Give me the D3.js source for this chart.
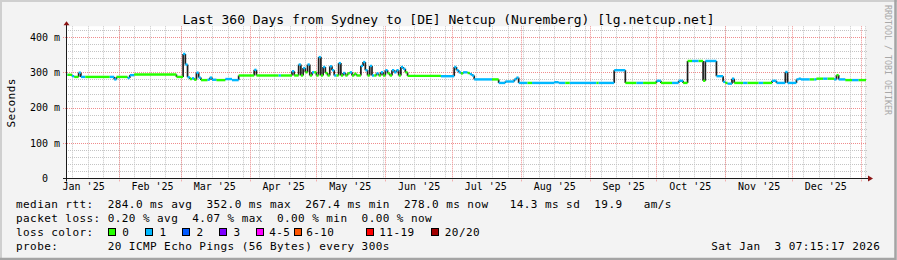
<!DOCTYPE html>
<html lang="en">
<head>
  <meta charset="UTF-8">
  <title>SmokePing - Last 360 Days</title>
  <script src="https://d3js.org/d3.v7.min.js"></script>
  <style>
    body {
      margin: 0;
      background: #f3f3f3;
    }
    svg text {
      font-family: "DejaVu Sans Mono", monospace;
      white-space: pre;
      fill: #000;
    }
  </style>
</head>
<body>
  <svg width="897" height="260"></svg>
  <script>
    const title = "Last 360 Days from Sydney to [DE] Netcup (Nuremberg) [lg.netcup.net]";
    const endTime = new Date(2026, 0, 3, 7, 15, 17);
    const spanDays = 360;
    const yTicks = [0, 100, 200, 300, 400];

    const lossLabels = ["0", "1", "2", "3", "4-5", "6-10", "11-19", "20/20"];
    const lossColors = ["#26ff00", "#00b8ff", "#0059ff", "#7e00ff", "#ff00ff", "#ff5500", "#ff0000", "#a10000"];

    // median rtt (ms) as steps: [start day, median, loss bucket]
    const medianRuns = [
      ["2025-01-08", 293, 1], ["2025-01-09", 293, 0], ["2025-01-11", 289, 1], ["2025-01-12", 287, 0],
      ["2025-01-15", 287, 1], ["2025-01-17", 287, 0], ["2025-01-28", 287, 1], ["2025-01-31", 287, 0],
      ["2025-02-05", 284, 1], ["2025-02-06", 292, 1], ["2025-02-08", 294, 0], ["2025-02-27", 287, 0],
      ["2025-03-04", 286, 1], ["2025-03-05", 281, 0], ["2025-03-06", 283, 1], ["2025-03-07", 279, 0],
      ["2025-03-09", 285, 1], ["2025-03-10", 278, 0], ["2025-03-13", 279, 1], ["2025-03-17", 278, 0],
      ["2025-03-21", 281, 1], ["2025-03-24", 278, 1], ["2025-03-27", 291, 0], ["2025-04-14", 291, 1],
      ["2025-04-15", 291, 0], ["2025-05-09", 291, 1], ["2025-05-10", 291, 0], ["2025-05-26", 291, 1],
      ["2025-05-27", 291, 0], ["2025-06-11", 290, 0], ["2025-06-26", 289, 1], ["2025-07-02", 315, 1],
      ["2025-07-03", 306, 1], ["2025-07-04", 300, 1], ["2025-07-05", 297, 0], ["2025-07-06", 300, 1],
      ["2025-07-08", 298, 0], ["2025-07-09", 295, 1], ["2025-07-10", 291, 1], ["2025-07-11", 280, 1],
      ["2025-07-19", 280, 0], ["2025-07-22", 270, 1], ["2025-07-25", 274, 1], ["2025-07-29", 280, 1],
      ["2025-07-31", 270, 1], ["2025-08-04", 270, 0], ["2025-08-06", 270, 1], ["2025-08-16", 272, 1],
      ["2025-08-18", 270, 1], ["2025-08-21", 270, 0], ["2025-08-23", 270, 1], ["2025-09-04", 270, 0],
      ["2025-09-05", 270, 1], ["2025-09-12", 306, 1], ["2025-09-17", 270, 0], ["2025-09-22", 270, 1],
      ["2025-09-25", 270, 0], ["2025-10-01", 276, 1], ["2025-10-03", 270, 0], ["2025-10-08", 270, 1],
      ["2025-10-11", 276, 1], ["2025-10-13", 270, 0], ["2025-10-15", 332, 0], ["2025-10-17", 332, 1],
      ["2025-10-20", 332, 0], ["2025-10-22", 276, 0], ["2025-10-23", 332, 1], ["2025-10-28", 289, 1],
      ["2025-10-31", 273, 1], ["2025-11-01", 270, 0], ["2025-11-02", 268, 1], ["2025-11-05", 270, 0],
      ["2025-11-09", 270, 1], ["2025-11-11", 270, 0], ["2025-11-16", 270, 1], ["2025-11-18", 270, 0],
      ["2025-11-22", 276, 1], ["2025-11-24", 270, 1], ["2025-12-03", 280, 1], ["2025-12-09", 280, 0],
      ["2025-12-11", 280, 1], ["2025-12-12", 282, 0], ["2025-12-15", 282, 1], ["2025-12-17", 282, 0],
      ["2025-12-20", 280, 1], ["2025-12-25", 278, 0], ["2025-12-28", 278, 1], ["2025-12-31", 278, 0]
    ];

    // one-day excursions: [day, median, loss bucket]
    const spikes = [
      ["2025-01-14", 299, 1], ["2025-01-30", 280, 1], ["2025-03-02", 352, 1], ["2025-03-03", 322, 1],
      ["2025-03-08", 299, 1], ["2025-03-14", 285, 1], ["2025-04-03", 307, 1], ["2025-04-20", 303, 1],
      ["2025-04-23", 322, 1], ["2025-04-25", 312, 1], ["2025-04-26", 300, 0], ["2025-04-27", 322, 1],
      ["2025-04-29", 300, 1], ["2025-04-30", 300, 0], ["2025-05-02", 343, 1], ["2025-05-04", 315, 1],
      ["2025-05-05", 298, 0], ["2025-05-07", 317, 1], ["2025-05-08", 306, 1], ["2025-05-11", 326, 1],
      ["2025-05-13", 298, 1], ["2025-05-15", 297, 0], ["2025-05-16", 300, 1], ["2025-05-18", 296, 0],
      ["2025-05-21", 318, 1], ["2025-05-22", 329, 1], ["2025-05-23", 306, 1], ["2025-05-25", 318, 1],
      ["2025-05-28", 297, 1], ["2025-05-30", 300, 1], ["2025-06-01", 306, 1], ["2025-06-02", 297, 0],
      ["2025-06-04", 306, 1], ["2025-06-05", 300, 1], ["2025-06-06", 306, 1], ["2025-06-08", 315, 1],
      ["2025-06-09", 310, 1], ["2025-06-10", 300, 0], ["2025-07-30", 285, 1], ["2025-11-04", 282, 1],
      ["2025-11-28", 301, 1], ["2025-12-04", 282, 1], ["2025-12-21", 292, 0]
    ];

    const statLines = [
      "median rtt:  284.0 ms avg  352.0 ms max  267.4 ms min  278.0 ms now   14.3 ms sd  19.9   am/s",
      "packet loss: 0.20 % avg  4.07 % max  0.00 % min  0.00 % now",
      "loss color:",
      "probe:       20 ICMP Echo Pings (56 Bytes) every 300s"
    ];
    const stamp = "Sat Jan  3 07:15:17 2026";

    const svg = d3.select("svg");
    const W = +svg.attr("width"), H = +svg.attr("height");
    const plot = { left: 66, right: 866, top: 26.3, bottom: 178.5 };

    const parse = d3.timeParse("%Y-%m-%d");
    const startTime = d3.timeDay.offset(endTime, -spanDays);

    const x = d3.scaleTime()
      .domain([startTime, endTime])
      .range([plot.left, plot.right])
      .clamp(true);

    const y = d3.scaleLinear()
      .domain([0, 430])
      .range([plot.bottom, plot.top]);

    const crisp = v => Math.round(v) + 0.5;

    // frame
    svg.append("rect").attr("width", W).attr("height", H).attr("fill", "#f3f3f3");
    svg.append("path").attr("d", `M1,${H} V1 H${W}`).attr("fill", "none")
      .attr("stroke", "#cfcfcf").attr("stroke-width", 2);
    svg.append("path").attr("d", `M0,${H - 1} H${W - 1.5} V0`).attr("fill", "none")
      .attr("stroke", "#a4a4a4").attr("stroke-width", 2.5);

    svg.append("rect")
      .attr("x", plot.left).attr("y", plot.top)
      .attr("width", plot.right - plot.left).attr("height", plot.bottom - plot.top)
      .attr("fill", "#fff");

    // grid
    const grid = svg.append("g").attr("stroke-dasharray", "1,1").attr("stroke-width", 1);

    const minorY = d3.range(20, 430, 20).filter(v => v % 100 !== 0);
    grid.selectAll(".hmin").data(minorY).enter().append("line")
      .attr("x1", plot.left).attr("x2", plot.right + 1)
      .attr("y1", d => crisp(y(d))).attr("y2", d => crisp(y(d)))
      .attr("stroke", "#c4c4c4");

    const weeks = d3.timeSaturday.range(startTime, endTime);
    grid.selectAll(".vmin").data(weeks).enter().append("line")
      .attr("x1", d => crisp(x(d))).attr("x2", d => crisp(x(d)))
      .attr("y1", plot.top).attr("y2", plot.bottom)
      .attr("stroke", "#c4c4c4");

    grid.selectAll(".hmaj").data(yTicks.filter(v => v > 0)).enter().append("line")
      .attr("x1", plot.left - 3).attr("x2", plot.right + 1)
      .attr("y1", d => crisp(y(d))).attr("y2", d => crisp(y(d)))
      .attr("stroke", "#f08c8c");

    const months = d3.timeMonth.range(d3.timeMonth.ceil(startTime), endTime);
    grid.selectAll(".vmaj").data(months).enter().append("line")
      .attr("x1", d => crisp(x(d))).attr("x2", d => crisp(x(d)))
      .attr("y1", plot.top).attr("y2", plot.bottom + 3)
      .attr("stroke", "#f08c8c");

    // median steps: baseline runs with one-day spikes laid over them
    const base = medianRuns.map(([d, v, l]) => ({ t: parse(d), v, l }));
    const baseAt = t => base.filter(s => s.t <= t).pop();
    let pts = base.slice();
    spikes.map(([d, v, l]) => ({ t: parse(d), v, l }))
      .sort((a, b) => a.t - b.t)
      .forEach(s => {
        const t1 = d3.timeDay.offset(s.t, 1);
        const after = baseAt(t1);
        pts = pts.filter(p => p.t < s.t || p.t > t1);
        pts.push(s, { t: t1, v: after.v, l: after.l });
      });
    pts.sort((a, b) => a.t - b.t);

    const segs = pts.map((p, i) => ({
      t0: p.t,
      t1: i < pts.length - 1 ? pts[i + 1].t : endTime,
      v: p.v,
      l: p.l,
      prev: i > 0 ? pts[i - 1].v : p.v
    }));

    const data = svg.append("g");
    data.selectAll(".rise").data(segs.filter(s => s.prev !== s.v)).enter().append("line")
      .attr("x1", d => x(d.t0)).attr("x2", d => x(d.t0))
      .attr("y1", d => y(d.prev)).attr("y2", d => y(d.v))
      .attr("stroke", "#1e1e1e").attr("stroke-width", 1.7);

    data.selectAll(".seg").data(segs).enter().append("line")
      .attr("x1", d => x(d.t0)).attr("x2", d => x(d.t1))
      .attr("y1", d => y(d.v)).attr("y2", d => y(d.v))
      .attr("stroke", d => lossColors[d.l]).attr("stroke-width", 2.4);

    // axes
    const xAxis = svg.append("g")
      .attr("transform", `translate(0,${plot.bottom})`)
      .call(d3.axisBottom(x)
        .tickValues(months.concat([d3.timeMonth.floor(startTime)]).map(m => d3.timeDay.offset(m, 15))
          .filter(t => t >= startTime && t <= endTime))
        .tickSize(0).tickPadding(4.4)
        .tickFormat(d3.timeFormat("%b '%y")));
    xAxis.select(".domain").remove();
    xAxis.selectAll("text").attr("font-size", 10);
    xAxis.attr("font-family", null);

    const yAxis = svg.append("g")
      .attr("transform", `translate(${plot.left},0)`)
      .call(d3.axisLeft(y).tickValues(yTicks).tickSize(0).tickPadding(6)
        .tickFormat(d => d ? d + " m" : "  0  "));
    yAxis.select(".domain").remove();
    yAxis.selectAll("text").attr("font-size", 10);
    yAxis.attr("font-family", null);

    svg.append("line")
      .attr("x1", plot.left - 3).attr("x2", plot.right + 2)
      .attr("y1", plot.bottom).attr("y2", plot.bottom)
      .attr("stroke", "#1a1a1a");
    svg.append("line")
      .attr("x1", crisp(plot.left)).attr("x2", crisp(plot.left))
      .attr("y1", plot.bottom + 3).attr("y2", plot.top - 2)
      .attr("stroke", "#1a1a1a");
    svg.append("path")
      .attr("d", `M${plot.right + 2},${plot.bottom - 3} L${plot.right + 7},${plot.bottom} L${plot.right + 2},${plot.bottom + 3} Z`)
      .attr("fill", "#8b1414");
    svg.append("path")
      .attr("d", `M${crisp(plot.left) - 3},${plot.top - 1} L${crisp(plot.left)},${plot.top - 5} L${crisp(plot.left) + 3},${plot.top - 1} Z`)
      .attr("fill", "#8b1414");

    // title and labels
    svg.append("text")
      .attr("x", W / 2).attr("y", 23.5)
      .attr("text-anchor", "middle")
      .attr("font-size", 13)
      .text(title);

    svg.append("text")
      .attr("transform", `translate(15,${(plot.top + plot.bottom) / 2 + 0.5}) rotate(-90)`)
      .attr("text-anchor", "middle")
      .attr("font-size", 11)
      .attr("letter-spacing", 0.43)
      .text("Seconds");

    svg.append("text")
      .attr("transform", `translate(884.5,5) rotate(90)`)
      .attr("font-size", 8.3)
      .style("fill", "#a8a8a8")
      .text("RRDTOOL / TOBI OETIKER");

    // legend
    const legendTop = 208, lineStep = 14;
    svg.selectAll(".stat").data(statLines).enter().append("text")
      .attr("x", 16).attr("y", (d, i) => legendTop + i * lineStep)
      .attr("font-size", 11)
      .attr("letter-spacing", 0.43)
      .text(d => d);

    svg.append("text")
      .attr("x", 880.4).attr("y", legendTop + 3 * lineStep)
      .attr("text-anchor", "end")
      .attr("font-size", 11)
      .attr("letter-spacing", 0.43)
      .text(stamp);

    const boxX = [108, 145, 182, 219, 256, 294, 366, 431];
    const labelX = [122.3, 159.5, 196.5, 233.5, 269.2, 306.2, 379.3, 444.8];
    const boxes = svg.selectAll(".lc").data(lossLabels).enter().append("g");
    boxes.append("rect")
      .attr("x", (d, i) => boxX[i] + 0.5).attr("y", legendTop + 2 * lineStep - 7.5)
      .attr("width", 7).attr("height", 7)
      .attr("fill", (d, i) => lossColors[i])
      .attr("stroke", "#000");
    boxes.append("text")
      .attr("x", (d, i) => labelX[i]).attr("y", legendTop + 2 * lineStep)
      .attr("font-size", 11)
      .attr("letter-spacing", 0.43)
      .text(d => d);
  </script>
</body>
</html>
